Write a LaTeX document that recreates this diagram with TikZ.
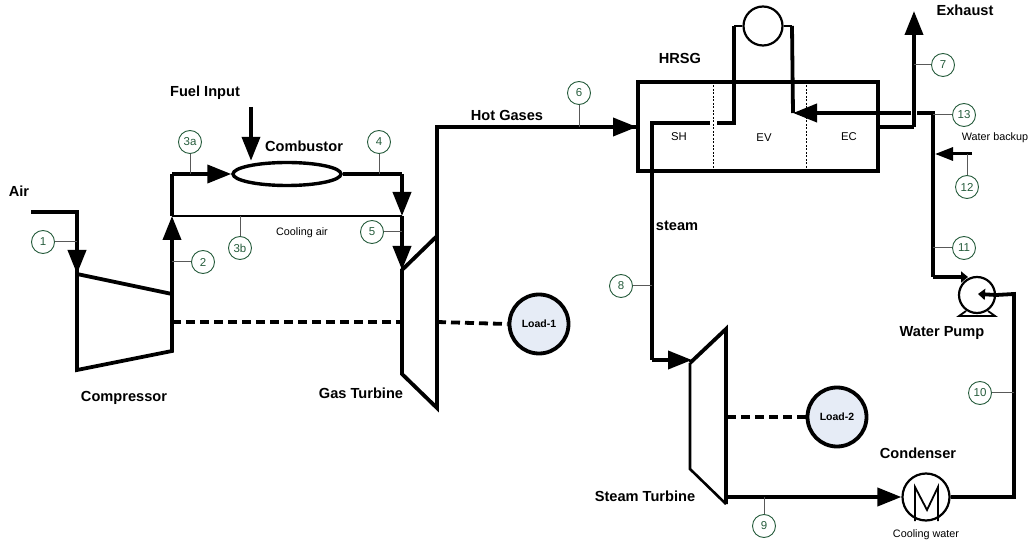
\documentclass[tikz,border=0pt]{standalone}
\usepackage{fontspec}
\setmainfont{Liberation Sans}
\usetikzlibrary{arrows.meta,shapes.geometric}
\definecolor{tagcol}{RGB}{38,92,60}
\definecolor{loadcol}{RGB}{230,236,246}
\tikzset{
  pipe/.style={line width=3.8pt,miter limit=10},
  flow/.style={pipe,-{Triangle[length=24pt,width=18pt]}},
  smallflow/.style={pipe,-{Triangle[length=7pt,width=11pt]}},
  thinpipe/.style={line width=1.8pt},
  shaft/.style={line width=3.8pt,dash pattern=on 9pt off 5pt},
  unit/.style={circle,draw,line width=2.2pt,inner sep=0pt,fill=white},
  load/.style={circle,draw,line width=3.8pt,inner sep=0pt,fill=loadcol,minimum size=59pt,font=\fontsize{10.5}{12}\bfseries},
  tag/.style={circle,draw=tagcol,line width=0.9pt,text=tagcol,inner sep=0pt,minimum size=23pt,font=\fontsize{11.5}{12}\selectfont},
  leader/.style={line width=1pt,draw=black!65},
  title/.style={font=\fontsize{14.6}{16}\bfseries,inner sep=0pt},
  small/.style={font=\fontsize{10.8}{12}\selectfont,inner sep=0pt},
  zone/.style={font=\fontsize{11.3}{12}\selectfont,inner sep=0pt},
}
\begin{document}
\begin{tikzpicture}[x=1pt,y=-1pt]
 \useasboundingbox (0,0) rectangle (1029,545);
 % gas turbine side
 \coordinate (airA) at (31,212);
 \coordinate (airB) at (77,212);
 \coordinate (compA) at (77,274);
 \coordinate (compB) at (172,294);
 \coordinate (compC) at (172,351);
 \coordinate (compD) at (77,370);
 \coordinate (split) at (172,216);
 \coordinate (upper) at (172,174);
 \coordinate (fuel) at (251,107);
 \coordinate (right) at (402,174);
 \coordinate (mix) at (402,216);
 \coordinate (gtA) at (402,270);
 \coordinate (gtB) at (437,236);
 \coordinate (gtC) at (437,408);
 \coordinate (gtD) at (402,374);
 \coordinate (gtTop) at (437,127);
 \coordinate (hrsgIn) at (637,127);
 \coordinate (shaftA) at (172,322);
 \coordinate (shaftB) at (402,322);
 \coordinate (shaftC) at (437,322);
 \node[ellipse,draw,line width=3.4pt,inner sep=0pt,minimum width=108pt,minimum height=23pt] (comb) at (287,174) {};
 \node[load] (loada) at (539,324) {Load-1};
 \draw[pipe] (airA) -- (airB) -- (compA);
 \draw[flow] (airB) -- (compA);
 \draw[pipe] (compA) -- (compB) -- (compC) -- (compD) -- cycle;
 \draw[flow] (compB) -- (split);
 \draw[pipe] (split) -- (upper);
 \draw[flow] (upper) -- (comb.west);
 \draw[flow] (fuel) -- (comb.north -| fuel);
 \draw[pipe] (comb.east) -- (right);
 \draw[flow] (right) -- (mix);
 \draw[line width=2.2pt] (split) -- (mix);
 \draw[flow] (mix) -- (gtA);
 \draw[pipe,line join=miter] (gtA) -- (gtB) -- (gtC) -- (gtD) -- cycle;
 \draw[pipe] (gtB) -- (gtTop) -- (hrsgIn);
 \draw[flow] (gtTop) -- (hrsgIn);
 \draw[shaft] (shaftA) -- (shaftB);
 \draw[shaft] (shaftC) -- (loada.west);
 % hrsg
 \coordinate (boxA) at (638,82);
 \coordinate (boxB) at (878,171);
 \coordinate (divA) at (713,82);
 \coordinate (divB) at (806,82);
 \coordinate (shIn) at (734,123);
 \coordinate (shGap) at (717,123);
 \coordinate (shEnd) at (710,123);
 \coordinate (steamA) at (652,123);
 \coordinate (steamB) at (652,360);
 \coordinate (drumL) at (734,26);
 \coordinate (drumR) at (792,26);
 \coordinate (ecOut) at (793,113);
 \coordinate (ecGap) at (911,113);
 \coordinate (feedA) at (917,113);
 \coordinate (feedB) at (933,113);
 \coordinate (feedC) at (933,277);
 \coordinate (exA) at (878,127);
 \coordinate (exB) at (914,127);
 \coordinate (exC) at (914,11);
 \coordinate (bkA) at (972,154);
 \coordinate (bkB) at (935,154);
 \node[unit] (drum) at (763,26) [minimum size=39pt] {};
 \draw[pipe] (boxA) rectangle (boxB);
 \draw[line width=1pt,dash pattern=on 2pt off 1.5pt] (divA) -- (divA |- boxB);
 \draw[line width=1pt,dash pattern=on 2pt off 1.5pt] (divB) -- (divB |- boxB);
 \draw[pipe] (steamB) -- (steamA) -- (shEnd);
 \draw[pipe] (shGap) -- (shIn) -- (drumL);
 \draw[thinpipe] (drumL) -- (drum.west);
 \draw[thinpipe] (drum.east) -- (drumR);
 \draw[pipe] (drumR) -- (ecOut);
 \draw[flow] (ecGap) -- (ecOut);
 \draw[pipe] (feedA) -- (feedB) -- (feedC);
 \draw[pipe] (exA) -- (exB);
 \draw[flow] (exB) -- (exC);
 \draw[line width=3pt,-{Triangle[length=18pt,width=13pt]}] (bkA) -- (bkB);
 \node[zone] (sh) at (679,137) {SH};
 \node[zone] (ev) at (764,138) {EV};
 \node[zone] (ec) at (849,137) {EC};
 % steam side
 \coordinate (stA) at (690,363);
 \coordinate (stB) at (726,329);
 \coordinate (stC) at (726,504);
 \coordinate (stD) at (690,469);
 \coordinate (stOut) at (726,497);
 \coordinate (stIn) at (692,360);
 \coordinate (stShaft) at (727,417);
 \coordinate (retA) at (1014,497);
 \coordinate (retB) at (1014,294);
 \coordinate (pumpIn) at (978,294);
 \coordinate (pumpTop) at (968,277);
 \coordinate (legA) at (959,316);
 \coordinate (legB) at (995,316);
 \coordinate (legC) at (966,311);
 \coordinate (legD) at (988,311);
 \coordinate (coilA) at (915,521);
 \coordinate (coilB) at (915,487);
 \coordinate (coilC) at (927,510);
 \coordinate (coilD) at (938,487);
 \coordinate (coilE) at (938,521);
 \node[load] (loadb) at (837,417) {Load-2};
 \node[unit] (pump) at (977,295) [minimum size=36pt] {};
 \node[unit] (cond) at (926,497) [minimum size=47pt] {};
 \draw[flow] (steamA |- stIn) -- (stIn);
 \draw[pipe] (stA) -- (stB) -- (stC);
 \draw[line width=2.6pt] (stA) -- (stD) -- (stC);
 \draw[flow] (stOut) -- (cond.west);
 \draw[pipe] (cond.east) -- (retA) -- (retB) -- (pump.east);
 \draw[smallflow] (pump.east) -- (pumpIn);
 \draw[pipe] (feedC) -- (pumpTop -| pump.west);
 \draw[smallflow] (feedC) -- (pumpTop);
 \draw[line width=1.8pt] (legC) -- (legA) -- (legB) -- (legD);
 \draw[line width=1.8pt] (coilA) -- (coilB) -- (coilC) -- (coilD) -- (coilE);
 \draw[shaft] (stShaft) -- (loadb.west);
 % state points
 \node[tag] (p1) at (43,242) {1};
 \node[tag] (p2) at (203,262) {2};
 \node[tag] (p3a) at (190,142) {3a};
 \node[tag] (p3b) at (240,248) {3b};
 \node[tag] (p4) at (379,142) {4};
 \node[tag] (p5) at (372,232) {5};
 \node[tag] (p6) at (579,93) {6};
 \node[tag] (p7) at (943,65) {7};
 \node[tag] (p8) at (621,286) {8};
 \node[tag] (p9) at (764,526) {9};
 \node[tag] (p10) at (980,393) {10};
 \node[tag] (p11) at (964,248) {11};
 \node[tag] (p12) at (967,187) {12};
 \node[tag] (p13) at (964,115) {13};
 \draw[leader] (p1) -- (p1 -| airB);
 \draw[leader] (p2) -- (p2 -| compB);
 \draw[leader] (p3a) -- (p3a |- upper);
 \draw[leader] (p3b) -- (p3b |- split);
 \draw[leader] (p4) -- (p4 |- right);
 \draw[leader] (p5) -- (p5 -| mix);
 \draw[leader] (p6) -- (p6 |- hrsgIn);
 \draw[leader] (p7) -- (p7 -| exB);
 \draw[leader] (p8) -- (p8 -| steamA);
 \draw[leader] (p9) -- (p9 |- stOut);
 \draw[leader] (p10) -- (p10 -| retA);
 \draw[leader] (p11) -- (p11 -| feedB);
 \draw[leader] (p12) -- (p12 |- bkA);
 \draw[leader] (p13) -- (p13 -| feedB);
 % labels
 \node[title] (airlab) at (19,191) {Air};
 \node[title] (fuellab) at (205,93) {Fuel Input};
 \node[title] (comblab) at (304,146) {Combustor};
 \node[small] (coollab) at (302,233) {Cooling air};
 \node[title] (complab) at (124,398) {Compressor};
 \node[title] (gtlab) at (361,393) {Gas Turbine};
 \node[title] (hotlab) at (507,115) {Hot Gases};
 \node[title] (hrsglab) at (680,58) {HRSG};
 \node[title] (exlab) at (965,10) {Exhaust};
 \node[title] (steamlab) at (677,226) {steam};
 \node[small] (backlab) at (995,138) {Water backup};
 \node[title] (pumplab) at (942,333) {Water Pump};
 \node[title] (stlab) at (645,496) {Steam Turbine};
 \node[title] (condlab) at (918,453) {Condenser};
 \node[small] (cwlab) at (926,535) {Cooling water};
\end{tikzpicture}
\end{document}
